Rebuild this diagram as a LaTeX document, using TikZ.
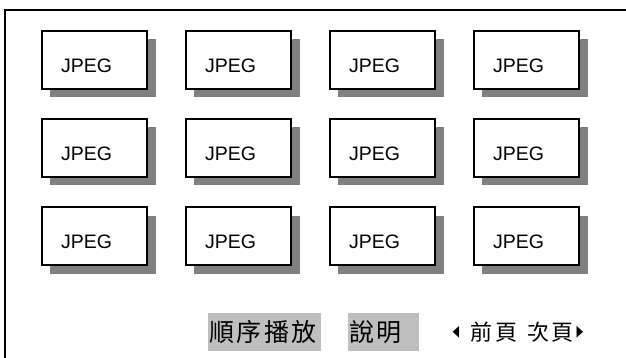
\documentclass[tikz,border=0pt]{standalone}
\usepackage{fontspec}
\setmainfont{Liberation Sans}
\newfontfamily\cjkfont{Noto Sans CJK TC}
\newfontfamily\symbolfont{DejaVu Sans}
\usepackage{tikz}
\usetikzlibrary{shadows,positioning}

\begin{document}
\begin{tikzpicture}[
    x=1pt, y=-1pt,
    thumb/.style={draw, line width=1.6pt, fill=white, inner sep=0pt,
      minimum width=105.5pt, minimum height=58pt,
      drop shadow={shadow xshift=8.5pt, shadow yshift=-8.5pt, fill=black!50, opacity=1}},
    thumbtext/.style={font=\fontsize{19.5}{20}\selectfont, inner sep=0pt},
    menubtn/.style={fill=black!25, anchor=north west, align=left,
      inner xsep=1pt, inner ysep=0pt, minimum height=38pt,
      font=\cjkfont\fontsize{25}{26}\selectfont\addfontfeature{LetterSpace=10}},
    pagetext/.style={font=\cjkfont\fontsize{22}{23}\selectfont\addfontfeature{LetterSpace=12}, inner sep=0pt},
    pagearrow/.style={font=\symbolfont\fontsize{24}{24}\selectfont, inner sep=0pt},
  ]
  \def\colstep{144}
  \def\rowstep{88}

  \useasboundingbox (0,0) rectangle (626,358);

  % ========= SCREEN FRAME =========
  \draw[line width=1.6pt] (5.2,358) -- (5.2,9.8) -- (626,9.8);

  % ========= THUMBNAILS =========
  \foreach \row in {0,1,2}
    \foreach \col in {0,1,2,3} {
      \node[thumb] (thumb-\row-\col) at (94.5+\colstep*\col, 60+\rowstep*\row) {};
      \node[thumbtext] (name-\row-\col) at ([shift={(-8,6)}]thumb-\row-\col.center) {JPEG};
    }

  % ========= MENU =========
  \node[menubtn, text width=111pt] (play) at (208,313) {順序播放};
  \node[menubtn, text width=69pt] (help) at (348,313) {說明};

  % Page turning
  \node[pagearrow] (prevarrow) at (456,332) {\scalebox{0.55}[1]{◂}};
  \node[pagetext] (prevpage) at (494,332) {前頁};
  \node[pagetext] (nextpage) at (550.5,332) {次頁};
  \node[pagearrow] (nextarrow) at (580,332) {\scalebox{0.55}[1]{▸}};
\end{tikzpicture}
\end{document}
